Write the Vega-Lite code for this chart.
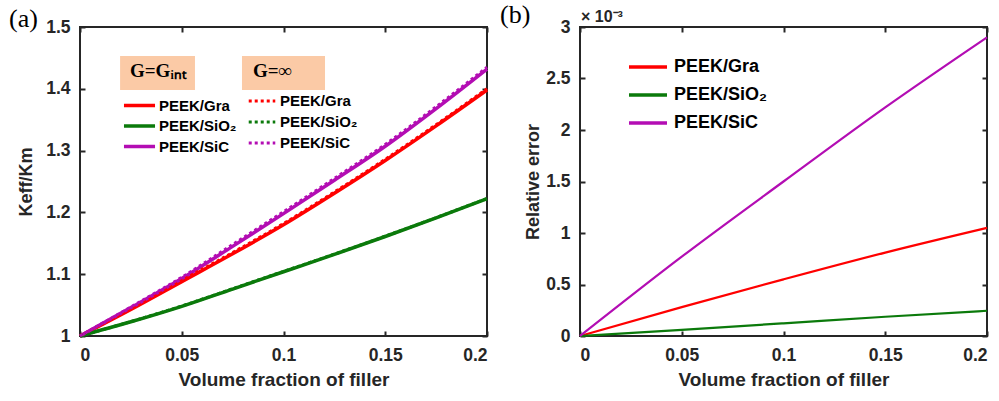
{
  "$schema": "https://vega.github.io/schema/vega-lite/v6.json",
  "background": "white",
  "padding": {"left": 8, "top": 1, "right": 0, "bottom": 0},
  "bounds": "flush",
  "spacing": 93,
  "resolve": {"scale": {"color": "independent"}, "legend": {"color": "independent"}},
  "datasets": {
    "ratio": [
      {"x": 0, "y": 1.0, "material": "PEEK/Gra", "model": "Gint"},
      {"x": 0.025, "y": 1.043, "material": "PEEK/Gra", "model": "Gint"},
      {"x": 0.05, "y": 1.088, "material": "PEEK/Gra", "model": "Gint"},
      {"x": 0.075, "y": 1.133, "material": "PEEK/Gra", "model": "Gint"},
      {"x": 0.1, "y": 1.18, "material": "PEEK/Gra", "model": "Gint"},
      {"x": 0.125, "y": 1.231, "material": "PEEK/Gra", "model": "Gint"},
      {"x": 0.15, "y": 1.284, "material": "PEEK/Gra", "model": "Gint"},
      {"x": 0.175, "y": 1.34, "material": "PEEK/Gra", "model": "Gint"},
      {"x": 0.2, "y": 1.398, "material": "PEEK/Gra", "model": "Gint"},
      {"x": 0, "y": 1.0, "material": "PEEK/SiO₂", "model": "Gint"},
      {"x": 0.025, "y": 1.023, "material": "PEEK/SiO₂", "model": "Gint"},
      {"x": 0.05, "y": 1.048, "material": "PEEK/SiO₂", "model": "Gint"},
      {"x": 0.075, "y": 1.076, "material": "PEEK/SiO₂", "model": "Gint"},
      {"x": 0.1, "y": 1.104, "material": "PEEK/SiO₂", "model": "Gint"},
      {"x": 0.125, "y": 1.132, "material": "PEEK/SiO₂", "model": "Gint"},
      {"x": 0.15, "y": 1.161, "material": "PEEK/SiO₂", "model": "Gint"},
      {"x": 0.175, "y": 1.191, "material": "PEEK/SiO₂", "model": "Gint"},
      {"x": 0.2, "y": 1.222, "material": "PEEK/SiO₂", "model": "Gint"},
      {"x": 0, "y": 1.0, "material": "PEEK/SiC", "model": "Gint"},
      {"x": 0.025, "y": 1.046, "material": "PEEK/SiC", "model": "Gint"},
      {"x": 0.05, "y": 1.093, "material": "PEEK/SiC", "model": "Gint"},
      {"x": 0.075, "y": 1.145, "material": "PEEK/SiC", "model": "Gint"},
      {"x": 0.1, "y": 1.198, "material": "PEEK/SiC", "model": "Gint"},
      {"x": 0.125, "y": 1.252, "material": "PEEK/SiC", "model": "Gint"},
      {"x": 0.15, "y": 1.307, "material": "PEEK/SiC", "model": "Gint"},
      {"x": 0.175, "y": 1.368, "material": "PEEK/SiC", "model": "Gint"},
      {"x": 0.2, "y": 1.432, "material": "PEEK/SiC", "model": "Gint"},
      {"x": 0, "y": 1.0, "material": "PEEK/Gra", "model": "inf"},
      {"x": 0.025, "y": 1.044, "material": "PEEK/Gra", "model": "inf"},
      {"x": 0.05, "y": 1.09, "material": "PEEK/Gra", "model": "inf"},
      {"x": 0.075, "y": 1.135, "material": "PEEK/Gra", "model": "inf"},
      {"x": 0.1, "y": 1.182, "material": "PEEK/Gra", "model": "inf"},
      {"x": 0.125, "y": 1.233, "material": "PEEK/Gra", "model": "inf"},
      {"x": 0.15, "y": 1.286, "material": "PEEK/Gra", "model": "inf"},
      {"x": 0.175, "y": 1.342, "material": "PEEK/Gra", "model": "inf"},
      {"x": 0.2, "y": 1.4, "material": "PEEK/Gra", "model": "inf"},
      {"x": 0, "y": 1.0, "material": "PEEK/SiO₂", "model": "inf"},
      {"x": 0.025, "y": 1.0233, "material": "PEEK/SiO₂", "model": "inf"},
      {"x": 0.05, "y": 1.0485, "material": "PEEK/SiO₂", "model": "inf"},
      {"x": 0.075, "y": 1.0765, "material": "PEEK/SiO₂", "model": "inf"},
      {"x": 0.1, "y": 1.1045, "material": "PEEK/SiO₂", "model": "inf"},
      {"x": 0.125, "y": 1.1325, "material": "PEEK/SiO₂", "model": "inf"},
      {"x": 0.15, "y": 1.1615, "material": "PEEK/SiO₂", "model": "inf"},
      {"x": 0.175, "y": 1.1915, "material": "PEEK/SiO₂", "model": "inf"},
      {"x": 0.2, "y": 1.2225, "material": "PEEK/SiO₂", "model": "inf"},
      {"x": 0, "y": 1.0, "material": "PEEK/SiC", "model": "inf"},
      {"x": 0.025, "y": 1.047, "material": "PEEK/SiC", "model": "inf"},
      {"x": 0.05, "y": 1.095, "material": "PEEK/SiC", "model": "inf"},
      {"x": 0.075, "y": 1.148, "material": "PEEK/SiC", "model": "inf"},
      {"x": 0.1, "y": 1.201, "material": "PEEK/SiC", "model": "inf"},
      {"x": 0.125, "y": 1.255, "material": "PEEK/SiC", "model": "inf"},
      {"x": 0.15, "y": 1.31, "material": "PEEK/SiC", "model": "inf"},
      {"x": 0.175, "y": 1.371, "material": "PEEK/SiC", "model": "inf"},
      {"x": 0.2, "y": 1.435, "material": "PEEK/SiC", "model": "inf"}
    ],
    "error": [
      {"x": 0, "y": 0, "material": "PEEK/Gra"},
      {"x": 0.05, "y": 0.00028, "material": "PEEK/Gra"},
      {"x": 0.1, "y": 0.00055, "material": "PEEK/Gra"},
      {"x": 0.15, "y": 0.00081, "material": "PEEK/Gra"},
      {"x": 0.2, "y": 0.00105, "material": "PEEK/Gra"},
      {"x": 0, "y": 0, "material": "PEEK/SiO₂"},
      {"x": 0.05, "y": 0.00006, "material": "PEEK/SiO₂"},
      {"x": 0.1, "y": 0.000123, "material": "PEEK/SiO₂"},
      {"x": 0.15, "y": 0.000187, "material": "PEEK/SiO₂"},
      {"x": 0.2, "y": 0.000245, "material": "PEEK/SiO₂"},
      {"x": 0, "y": 0, "material": "PEEK/SiC"},
      {"x": 0.05, "y": 0.00077, "material": "PEEK/SiC"},
      {"x": 0.1, "y": 0.0015, "material": "PEEK/SiC"},
      {"x": 0.15, "y": 0.00222, "material": "PEEK/SiC"},
      {"x": 0.2, "y": 0.0029, "material": "PEEK/SiC"}
    ]
  },
  "hconcat": [
    {
      "width": 407,
      "height": 309,
      "title": {"text": "(a)", "anchor": "start", "frame": "group", "dx": -71, "offset": -35, "baseline": "alphabetic", "font": "Liberation Serif", "fontSize": 26, "fontWeight": "normal", "color": "black"},
      "layer": [
        {
          "data": {"values": [{}]},
          "mark": {"type": "rect", "color": "#fbcaa6"},
          "encoding": {
            "x": {"datum": 0.0197, "type": "quantitative", "axis": null},
            "x2": {"datum": 0.0565},
            "y": {"datum": 1.453, "type": "quantitative", "axis": null},
            "y2": {"datum": 1.398}
          }
        },
        {
          "data": {"values": [{}]},
          "mark": {"type": "rect", "color": "#fbcaa6"},
          "encoding": {
            "x": {"datum": 0.0796, "type": "quantitative", "axis": null},
            "x2": {"datum": 0.1204},
            "y": {"datum": 1.453, "type": "quantitative", "axis": null},
            "y2": {"datum": 1.398}
          }
        },
        {
          "data": {"name": "ratio"},
          "transform": [{"filter": "datum.model === 'Gint'"}],
          "mark": {"type": "line", "strokeWidth": 3.5, "interpolate": "monotone"},
          "encoding": {
            "x": {"field": "x", "type": "quantitative", "scale": {"domain": [0, 0.2], "nice": false, "zero": false},
              "axis": {"values": [0, 0.05, 0.1, 0.15, 0.2], "format": "~g", "title": "Volume fraction of filler"}},
            "y": {"field": "y", "type": "quantitative", "scale": {"domain": [1, 1.5], "nice": false, "zero": false},
              "axis": {"values": [1, 1.1, 1.2, 1.3, 1.4, 1.5], "format": "~g", "title": "Keff/Km", "titlePadding": 10}},
            "color": {"field": "material", "type": "nominal",
              "scale": {"domain": ["PEEK/Gra", "PEEK/SiO₂", "PEEK/SiC"], "range": ["#ff0000", "#0b7a0b", "#b30db3"]},
              "legend": {"orient": "none", "legendX": 50, "legendY": 35, "title": "G=Gᵢₙₜ", "titleFont": "Liberation Serif", "titleFontSize": 19, "titleFontWeight": "bold", "titleColor": "black", "titlePadding": 15, "symbolType": "M-2.07,0H2.07", "symbolSize": 225, "symbolStrokeWidth": 3.5, "labelOffset": 10, "labelFontSize": 15, "rowPadding": 2.5, "padding": 0}}
          }
        },
        {
          "data": {"name": "ratio"},
          "transform": [{"filter": "datum.model === 'inf'"}],
          "mark": {"type": "line", "strokeWidth": 3, "strokeDash": [3, 3], "interpolate": "monotone"},
          "encoding": {
            "x": {"field": "x", "type": "quantitative", "axis": null},
            "y": {"field": "y", "type": "quantitative", "axis": null},
            "color": {"field": "material", "type": "nominal",
              "scale": {"domain": ["PEEK/Gra", "PEEK/SiO₂", "PEEK/SiC"], "range": ["#ff0000", "#0b7a0b", "#b30db3"]},
              "legend": {"orient": "none", "legendX": 173, "legendY": 35, "title": "G=∞", "titleFont": "Liberation Serif", "titleFontSize": 19, "titleFontWeight": "bold", "titleColor": "black", "titlePadding": 11, "symbolType": "M-1.77,0H1.77", "symbolSize": 225, "symbolStrokeWidth": 3, "symbolDash": [3, 3], "labelOffset": 9, "labelFontSize": 15, "rowPadding": 4, "padding": 0}}
          }
        },
        {
          "data": {"name": "ratio"},
          "mark": {"type": "line", "opacity": 0},
          "encoding": {
            "x": {"field": "x", "type": "quantitative", "axis": {"orient": "top", "values": [0, 0.05, 0.1, 0.15, 0.2], "labels": false, "title": null}},
            "y": {"field": "y", "type": "quantitative", "axis": {"orient": "right", "values": [1, 1.1, 1.2, 1.3, 1.4, 1.5], "labels": false, "title": null}},
            "detail": {"field": "material"}
          }
        }
      ],
      "resolve": {"scale": {"color": "independent"}, "axis": {"x": "independent", "y": "independent"}}
    },
    {
      "width": 407,
      "height": 309,
      "title": {"text": "(b)", "anchor": "start", "frame": "group", "dx": -80, "offset": -40, "baseline": "alphabetic", "font": "Liberation Serif", "fontSize": 26, "fontWeight": "normal", "color": "black"},
      "layer": [
        {
          "data": {"name": "error"},
          "mark": {"type": "line", "strokeWidth": 2.2, "interpolate": "monotone"},
          "encoding": {
            "x": {"field": "x", "type": "quantitative", "scale": {"domain": [0, 0.2], "nice": false, "zero": false},
              "axis": {"values": [0, 0.05, 0.1, 0.15, 0.2], "format": "~g", "title": "Volume fraction of filler"}},
            "y": {"field": "y", "type": "quantitative", "scale": {"domain": [0, 0.003], "nice": false, "zero": false},
              "axis": {"values": [0, 0.0005, 0.001, 0.0015, 0.002, 0.0025, 0.003], "labelExpr": "format(datum.value * 1000, '~g')", "title": "Relative error", "titlePadding": 3}},
            "color": {"field": "material", "type": "nominal",
              "scale": {"domain": ["PEEK/Gra", "PEEK/SiO₂", "PEEK/SiC"], "range": ["#ff0000", "#0b7a0b", "#b30db3"]},
              "legend": {"orient": "none", "legendX": 58, "legendY": 30, "title": null, "symbolType": "M-2.375,0H2.375", "symbolSize": 256, "symbolStrokeWidth": 3.5, "labelOffset": 16, "labelFontSize": 18, "rowPadding": 9, "padding": 0}}
          }
        },
        {
          "data": {"values": [{}]},
          "mark": {"type": "text", "text": "× 10⁻³", "align": "left", "baseline": "alphabetic", "dx": 1, "dy": -5, "font": "Liberation Sans", "fontSize": 16, "fontWeight": "bold", "color": "#262626"},
          "encoding": {
            "x": {"datum": 0, "type": "quantitative", "axis": null},
            "y": {"datum": 0.003, "type": "quantitative", "axis": null}
          }
        },
        {
          "data": {"name": "error"},
          "mark": {"type": "line", "opacity": 0},
          "encoding": {
            "x": {"field": "x", "type": "quantitative", "axis": {"orient": "top", "values": [0, 0.05, 0.1, 0.15, 0.2], "labels": false, "title": null}},
            "y": {"field": "y", "type": "quantitative", "axis": {"orient": "right", "values": [0, 0.0005, 0.001, 0.0015, 0.002, 0.0025, 0.003], "labels": false, "title": null}},
            "detail": {"field": "material"}
          }
        }
      ],
      "resolve": {"axis": {"x": "independent", "y": "independent"}}
    }
  ],
  "config": {
    "view": {"stroke": "#262626", "strokeWidth": 2},
    "axis": {"domain": false, "grid": false, "ticks": true, "tickSize": 5, "offset": -5, "tickWidth": 2, "tickColor": "#262626",
      "labelFont": "Liberation Sans", "labelFontWeight": "bold", "labelFontSize": 17.5, "labelColor": "#262626", "labelPadding": 10,
      "titleFont": "Liberation Sans", "titleFontWeight": "bold", "titleFontSize": 18, "titleColor": "#262626", "titlePadding": 6},
    "axisX": {"labelPadding": 10, "titlePadding": 7, "titleFontSize": 19},
    "legend": {"labelFont": "Liberation Sans", "labelFontWeight": "bold", "labelColor": "black"}
  }
}
